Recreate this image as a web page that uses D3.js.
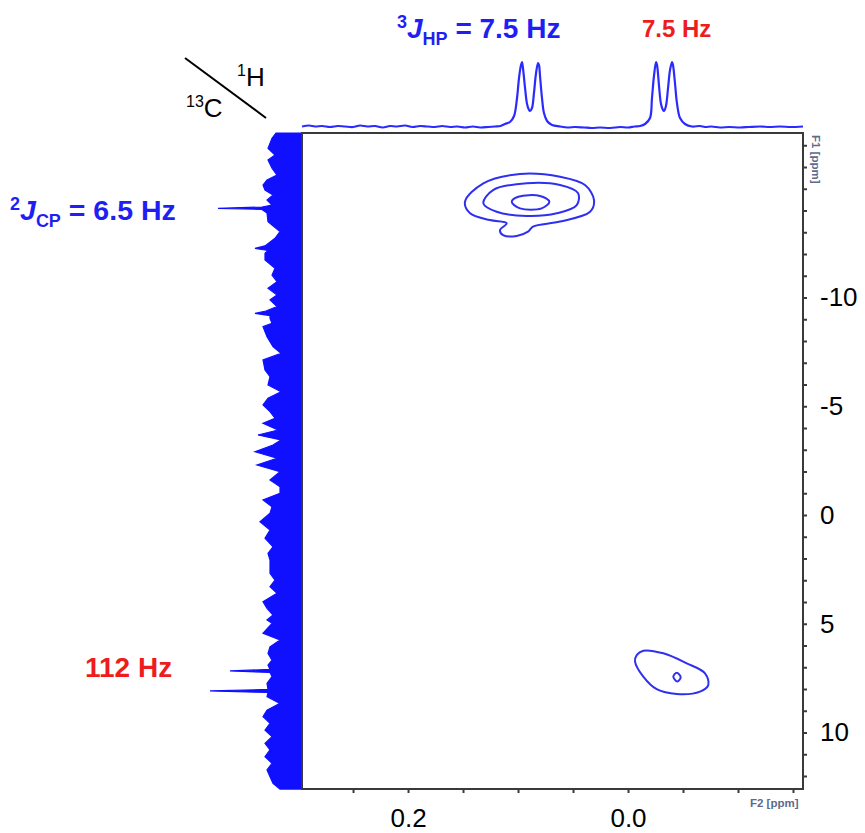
<!DOCTYPE html>
<html><head><meta charset="utf-8">
<script src="https://cdn.jsdelivr.net/npm/d3@7"></script>
<style>body{margin:0;background:#fff}svg{display:block;font-family:"Liberation Sans",Arial,sans-serif}</style>
</head><body><svg id="c" width="865" height="833"></svg>
<script>
// F2 (1H) projection: [ppm, intensity]
const topProjection = [[0.2964,1.5],[0.2900,2.5],[0.2845,1.5],[0.2780,2],[0.2709,1],[0.2640,2],[0.2573,1.5],[0.2500,1],[0.2436,2.5],[0.2370,1.5],[0.2300,2],[0.2230,0.5],[0.2164,2],[0.2100,1.5],[0.2027,2.5],[0.1960,1],[0.1891,2],[0.1820,1.5],[0.1755,1],[0.1690,2],[0.1618,1],[0.1550,1.5],[0.1482,0.5],[0.1410,1.5],[0.1345,0.5],[0.1270,1],[0.1209,1.5],[0.1160,2],[0.1118,4],[0.1073,6],[0.1036,12],[0.1009,30],[0.0991,50],[0.0973,63],[0.0964,66],[0.0955,60],[0.0936,40],[0.0918,24],[0.0900,18],[0.0891,17],[0.0873,20],[0.0855,35],[0.0836,55],[0.0818,65],[0.0809,63],[0.0800,52],[0.0782,30],[0.0764,15],[0.0736,7],[0.0691,3],[0.0618,1.5],[0.0550,0.5],[0.0482,1],[0.0400,0.5],[0.0330,0],[0.0255,0.5],[0.0160,0],[0.0073,1],[0.0000,0.5],[-0.0060,1.5],[-0.0109,2],[-0.0155,4],[-0.0200,10],[-0.0218,30],[-0.0236,52],[-0.0255,66],[-0.0264,63],[-0.0282,42],[-0.0300,24],[-0.0318,18],[-0.0327,17],[-0.0345,22],[-0.0364,40],[-0.0382,58],[-0.0400,66],[-0.0409,63],[-0.0427,45],[-0.0445,25],[-0.0473,10],[-0.0518,4],[-0.0582,1.5],[-0.0655,2],[-0.0700,1],[-0.0760,1.5],[-0.0836,0.5],[-0.0920,1],[-0.1018,0.5],[-0.1100,1],[-0.1200,1.5],[-0.1290,1],[-0.1382,1.5],[-0.1480,1],[-0.1591,1.5]];

// F1 (13C) projection: [F1 value, intensity]
const leftProjection = [[-17.56,25],[-17.32,29],[-16.86,33],[-16.55,26],[-16.32,33],[-15.94,29],[-15.63,24],[-15.40,34],[-15.17,38],[-14.94,36],[-14.71,28],[-14.48,34],[-14.25,29],[-14.16,39],[-14.10,83],[-14.05,39],[-13.89,34],[-13.49,33],[-13.33,29],[-13.03,21],[-12.72,26],[-12.37,36],[-12.26,46],[-12.16,33],[-12.03,36],[-11.72,36],[-11.34,26],[-11.03,29],[-10.73,24],[-10.42,33],[-10.11,24],[-9.89,31],[-9.58,24],[-9.38,35],[-9.27,46],[-9.17,31],[-9.04,31],[-8.81,29],[-8.66,38],[-8.20,34],[-7.74,28],[-7.43,20],[-7.13,38],[-6.67,36],[-6.36,31],[-5.98,33],[-5.67,20],[-5.37,33],[-5.06,38],[-4.75,31],[-4.45,26],[-4.22,38],[-3.91,23],[-3.68,43],[-3.45,20],[-3.22,28],[-2.91,46],[-2.61,24],[-2.30,44],[-1.99,21],[-1.61,31],[-1.30,21],[-1.00,21],[-0.69,38],[-0.38,29],[-0.08,31],[0.31,41],[0.69,31],[1.07,36],[1.46,28],[1.76,33],[2.07,31],[2.38,31],[2.68,31],[2.99,26],[3.30,31],[3.60,24],[3.99,38],[4.29,34],[4.60,28],[4.83,34],[4.98,29],[5.44,38],[5.75,21],[6.06,31],[6.36,33],[6.67,29],[6.90,33],[7.10,31],[7.17,71],[7.24,31],[7.43,29],[7.74,34],[8.02,33],[8.09,91],[8.16,33],[8.35,34],[8.66,21],[8.97,34],[9.27,38],[9.58,31],[9.89,36],[10.19,29],[10.50,36],[10.80,31],[11.11,36],[11.42,29],[11.72,34],[12.03,31],[12.34,28],[12.60,21]];

// contour levels: [F2 ppm, F1]
const contourUpperOuter = [[0.1482,-14.40],[0.1315,-15.25],[0.0982,-15.68],[0.0618,-15.55],[0.0391,-15.17],[0.0309,-14.48],[0.0345,-13.94],[0.0618,-13.49],[0.0864,-13.26],[0.0909,-13.03],[0.1012,-12.83],[0.1136,-12.87],[0.1164,-13.10],[0.1103,-13.41],[0.1255,-13.56],[0.1436,-13.87]];
const contourUpperMiddle = [[0.1315,-14.33],[0.1227,-14.94],[0.0921,-15.25],[0.0618,-15.17],[0.0455,-14.80],[0.0466,-14.25],[0.0648,-13.87],[0.0921,-13.75],[0.1194,-13.94]];
const contourUpperInner = [[0.1057,-14.40],[0.0997,-14.63],[0.0800,-14.67],[0.0715,-14.40],[0.0785,-14.10],[0.0982,-14.10]];
const contourLowerOuter = [[-0.0079,6.44],[-0.0139,6.24],[-0.0321,6.36],[-0.0534,6.82],[-0.0700,7.28],[-0.0730,7.82],[-0.0655,8.12],[-0.0443,8.23],[-0.0261,8.01],[-0.0139,7.43],[-0.0064,6.74]];
const contourLowerInner = [[-0.0412,7.43],[-0.0443,7.25],[-0.0479,7.46],[-0.0448,7.66]];

const f2Ticks = [0.25,0.2,0.15,0.1,0.05,0.0,-0.05,-0.1,-0.15];
const f2Labels = {"0.2":"0.2","0":"0.0"};
const f1Ticks = d3.range(-17,13);
const f1Labelled = [-10,-5,0,5,10];

const svg = d3.select("#c");
const L=302,R=803,T=133,B=789;
const x = d3.scaleLinear().domain([0.2964,-0.1591]).range([L,R]);
const y = d3.scaleLinear().domain([0,10]).range([515,732.5]);
const iTop = d3.scaleLinear().domain([0,100]).range([128,28]);
const iLeft = d3.scaleLinear().domain([0,100]).range([301,201]);
const BLUE="#1f1ff5", RED="#ee1c1c";

// left projection
svg.append("path").datum(leftProjection)
  .attr("d", d3.area().y(d=>y(d[0])).x0(iLeft(0)).x1(d=>iLeft(d[1])))
  .attr("fill","#1010ff").attr("stroke","#1010ff").attr("stroke-width",1.2).attr("stroke-linejoin","miter");

// top projection
svg.append("path").datum(topProjection)
  .attr("d", d3.line().x(d=>x(d[0])).y(d=>iTop(d[1])).curve(d3.curveCatmullRom))
  .attr("fill","none").attr("stroke","#2b2bff").attr("stroke-width",2.2);

// frame
svg.append("rect").attr("x",L).attr("y",T).attr("width",R-L).attr("height",B-T)
  .attr("fill","none").attr("stroke","#3a3a3a").attr("stroke-width",2);

// axes
const ay = svg.append("g").attr("transform",`translate(${R},0)`)
  .call(d3.axisRight(y).tickValues(f1Ticks).tickSize(4).tickPadding(13)
    .tickFormat(d=>f1Labelled.includes(d)? String(d) : ""));
ay.select(".domain").remove();
ay.selectAll("line").attr("stroke","#3a3a3a").attr("stroke-width",2);
ay.selectAll("text").attr("font-size",26).attr("fill","#000").attr("font-family","Liberation Sans, Arial, sans-serif");

const ax = svg.append("g").attr("transform",`translate(0,${B})`)
  .call(d3.axisBottom(x).tickValues(f2Ticks).tickSize(4).tickPadding(16)
    .tickFormat(d=>{const k=String(+d.toFixed(2)); return f2Labels[k]||"";}));
ax.select(".domain").remove();
ax.selectAll("line").attr("stroke","#3a3a3a").attr("stroke-width",2);
ax.selectAll("text").attr("font-size",26).attr("fill","#000").attr("font-family","Liberation Sans, Arial, sans-serif");

// contours
const cl = d3.line().x(d=>x(d[0])).y(d=>y(d[1])).curve(d3.curveCatmullRomClosed.alpha(0.5));
[contourUpperOuter,contourUpperMiddle,contourUpperInner,contourLowerOuter,contourLowerInner].forEach(c=>{
  svg.append("path").datum(c).attr("d",cl).attr("fill","none").attr("stroke","#2f2ff0").attr("stroke-width",2);
});

// small axis unit labels
svg.append("text").attr("transform","translate(812,135) rotate(90)")
  .attr("font-size",11.5).attr("font-weight","bold").attr("fill","#5b6b8c").text("F1 [ppm]");
svg.append("text").attr("x",750).attr("y",807)
  .attr("font-size",11.5).attr("font-weight","bold").attr("fill","#5b6b8c").text("F2 [ppm]");

// coupling annotations
const t1 = svg.append("text").attr("x",397).attr("y",38).attr("font-size",28).attr("font-weight","bold").attr("fill",BLUE);
t1.append("tspan").attr("font-size",18).attr("dy",-10).text("3");
t1.append("tspan").attr("font-style","italic").attr("dy",10).text("J");
t1.append("tspan").attr("font-size",18).attr("dy",7).text("HP");
t1.append("tspan").attr("dy",-7).text(" = 7.5 Hz");
svg.append("text").attr("x",642).attr("y",37).attr("font-size",24).attr("font-weight","bold").attr("fill",RED).text("7.5 Hz");

const t2 = svg.append("text").attr("x",10).attr("y",220).attr("font-size",28.5).attr("font-weight","bold").attr("fill",BLUE);
t2.append("tspan").attr("font-size",18).attr("dy",-10).text("2");
t2.append("tspan").attr("font-style","italic").attr("dy",10).text("J");
t2.append("tspan").attr("font-size",18).attr("dy",7).text("CP");
t2.append("tspan").attr("dy",-7).text(" = 6.5 Hz");
svg.append("text").attr("x",85).attr("y",677).attr("font-size",28).attr("font-weight","bold").attr("fill",RED).text("112 Hz");

// corner
svg.append("line").attr("x1",185).attr("y1",58).attr("x2",266).attr("y2",118).attr("stroke","#000").attr("stroke-width",2);
const h = svg.append("text").attr("x",237).attr("y",86).attr("font-size",26).attr("fill","#000");
h.append("tspan").attr("font-size",16).attr("dy",-10).text("1");
h.append("tspan").attr("dy",10).text("H");
const c = svg.append("text").attr("x",186).attr("y",117).attr("font-size",26).attr("fill","#000");
c.append("tspan").attr("font-size",16).attr("dy",-10).text("13");
c.append("tspan").attr("dy",10).text("C");
</script></body></html>
